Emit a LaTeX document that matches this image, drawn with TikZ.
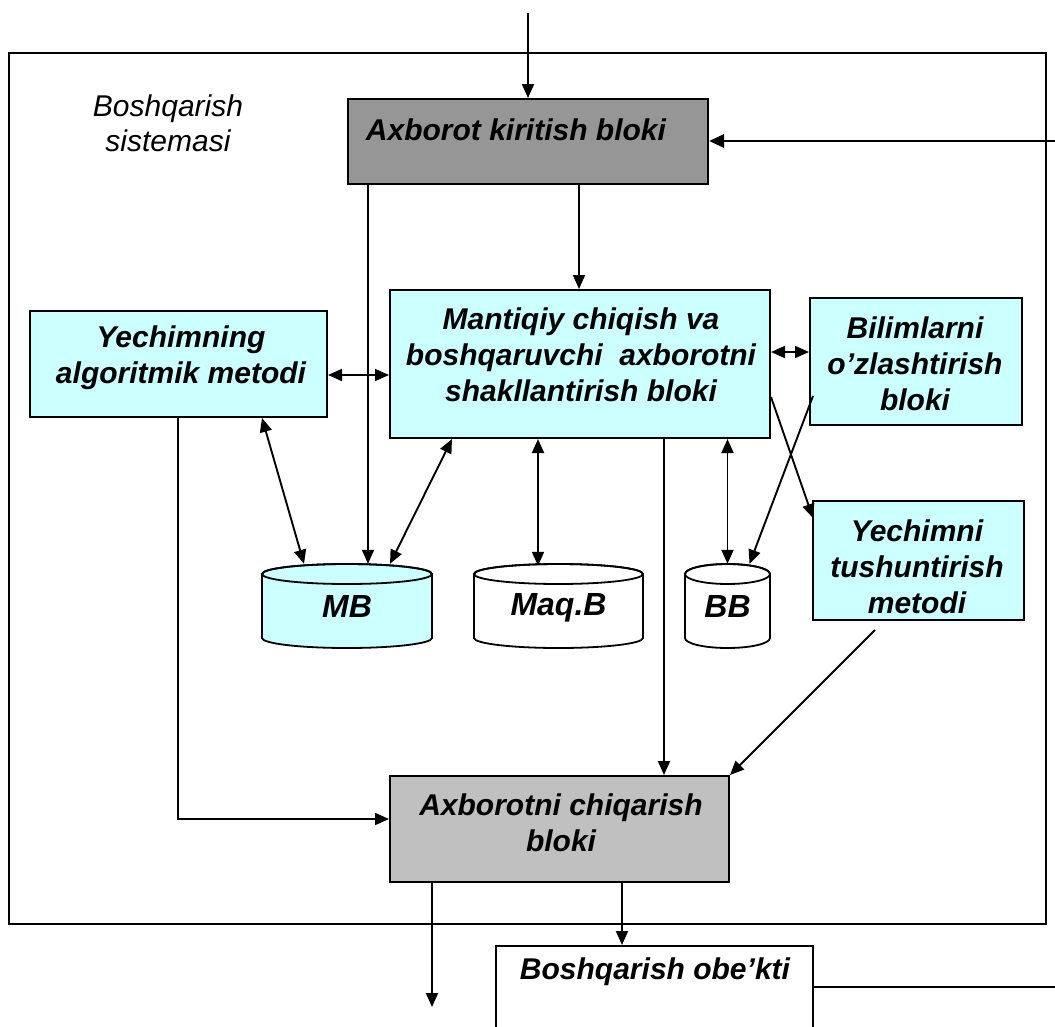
\documentclass[tikz,border=0pt]{standalone}
\usepackage{fontspec}
\setmainfont{Liberation Sans}
\usetikzlibrary{arrows.meta,calc}
\definecolor{paleblue}{HTML}{CCFFFF}
\definecolor{darkbox}{HTML}{969696}
\definecolor{lightbox}{HTML}{C0C0C0}

\begin{document}
\begin{tikzpicture}[x=1pt,y=-1pt,
  box/.style={draw, line width=2pt, rectangle, inner sep=0pt, anchor=north west},
  txt/.style={font=\fontsize{30}{36}\selectfont\bfseries\itshape, align=center, inner sep=0pt},
  dblabel/.style={font=\fontsize{32}{36}\selectfont\bfseries\itshape, inner sep=0pt},
  cyl/.style={draw, line width=1.8pt},
  tip/.tip={Triangle[length=14pt,width=12pt]},
  arr/.style={-tip, line width=1.9pt},
  darr/.style={tip-tip, line width=1.9pt},
  plain/.style={line width=1.9pt}
]
\useasboundingbox (0,0) rectangle (1055,1026);
\clip (0,0) rectangle (1055,1026);

% control system frame and its caption
\node[box, line width=1.7pt, minimum width=1037, minimum height=871] (sys) at (8,52) {};
\node[font=\fontsize{30}{35}\selectfont\itshape, align=center, inner sep=0pt] (syslabel) at (168,123) {Boshqarish\\sistemasi};

% blocks
\node[box, fill=darkbox, minimum width=360, minimum height=85] (kirit) at (347,98) {};
\node[txt] (kirit-t) at (516,130) {Axborot kiritish bloki};

\node[box, fill=paleblue, minimum width=380, minimum height=148] (mant) at (389,289) {};
\node[txt] (mant-t) at (581,355) {Mantiqiy chiqish va\\boshqaruvchi\ \ axborotni\\shakllantirish bloki};

\node[box, fill=paleblue, minimum width=297, minimum height=106] (yech) at (29,310) {};
\node[txt] (yech-t) at (181,358) {Yechimning\\algoritmik metodi};

\node[box, fill=paleblue, minimum width=212, minimum height=127] (bil) at (809,297) {};
\node[txt] (bil-t) at (915,364) {Bilimlarni\\o’zlashtirish\\bloki};

\node[box, fill=paleblue, minimum width=211, minimum height=119] (yt) at (812,500) {};
\node[txt] (yt-t) at (917,567) {Yechimni\\tushuntirish\\metodi};

\node[box, fill=lightbox, minimum width=339, minimum height=106] (chiq) at (389,775) {};
\node[txt] (chiq-t) at (561,823) {Axborotni chiqarish\\bloki};

\node[box, fill=white, minimum width=317, minimum height=100] (obj) at (495,945) {};
\node[txt] (obj-t) at (655,972) {Boshqarish obe’kti};

% databases
\filldraw[cyl, fill=paleblue] (262,574) -- (262,638)
  arc[start angle=180, end angle=0, x radius=85, y radius=10] -- (432,574)
  arc[start angle=0, end angle=-180, x radius=85, y radius=10] -- cycle;
\draw[cyl] (347,574) ellipse[x radius=85, y radius=10];
\node[dblabel, minimum width=170, minimum height=84] (mb) at (347,606) {MB};

\filldraw[cyl, fill=white] (474,574) -- (474,638)
  arc[start angle=180, end angle=0, x radius=84.5, y radius=10] -- (643,574)
  arc[start angle=0, end angle=-180, x radius=84.5, y radius=10] -- cycle;
\draw[cyl] (558.5,574) ellipse[x radius=84.5, y radius=10];
\node[dblabel, minimum width=169, minimum height=84] (maq) at (558.5,608) {Maq.B};

\filldraw[cyl, fill=white] (685,574) -- (685,638)
  arc[start angle=180, end angle=0, x radius=42.5, y radius=10] -- (770,574)
  arc[start angle=0, end angle=-180, x radius=42.5, y radius=10] -- cycle;
\draw[cyl] (727.5,574) ellipse[x radius=42.5, y radius=10];
\node[dblabel, minimum width=85, minimum height=84] (bb) at (727.5,606) {BB};

% incoming information and feedback
\coordinate (in) at (528,13);
\draw[arr] (in) -- (in |- kirit.north);
\coordinate (fb) at (1055,141);
\draw[-{Triangle[length=15pt,width=13pt]}, line width=2.8pt] (fb) -- (fb -| kirit.east);

% from the input block
\draw[arr] ($(kirit.south west)+(21,0)$) coordinate (k1) -- (k1 |- mb.north);
\draw[arr] ($(kirit.south west)+(232,0)$) coordinate (k2) -- (k2 |- mant.north);

% links of the inference block
\draw[darr] ($(yech.east)+(0,11)$) coordinate (y1) -- (y1 -| mant.west);
\draw[darr] ($(mant.east)+(0,-12)$) coordinate (m1) -- (m1 -| bil.west);
\draw[darr] ($(yech.south west)+(233,0)$) -- ($(mb.north)+(-43,0)$);
\draw[darr] ($(mb.north)+(43,0)$) -- ($(mant.south west)+(63,0)$);
\draw[darr] ($(mant.south west)+(149,0)$) coordinate (m3) -- (m3 |- maq.north);
\draw[darr] (bb.north |- mant.south) -- (bb.north);
\draw[arr] ($(bil.south west)+(4,-30)$) -- ($(bb.north)+(22,0)$);
\draw[arr] ($(mant.south east)+(0,-42)$) -- ($(yt.north west)+(1,18)$);

% towards the output block
\draw[arr] ($(mant.south west)+(275,0)$) coordinate (m5) -- (m5 |- chiq.north);
\draw[arr] ($(yt.south west)+(63,9)$) -- (chiq.north east);
\draw[arr] ($(yech.south west)+(149,0)$) |- ($(chiq.west)+(0,-10)$);

% outputs
\draw[arr] ($(chiq.south west)+(43,0)$) coordinate (c1) -- (c1 |- 0,1007);
\draw[arr] ($(chiq.south west)+(233,0)$) coordinate (c2) -- (c2 |- obj.north);
\coordinate (back) at (1055,987);
\draw[plain] (back -| obj.east) -- (back);
\end{tikzpicture}
\end{document}
